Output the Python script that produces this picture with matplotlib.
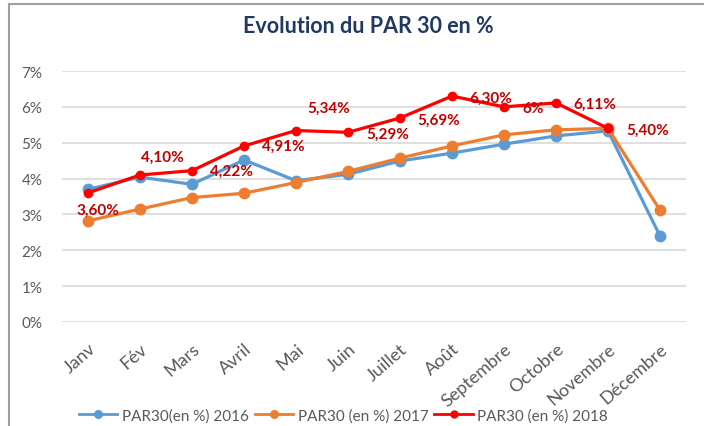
import matplotlib
matplotlib.use("Agg")
import matplotlib.pyplot as plt
from matplotlib.lines import Line2D

plt.rcParams['font.family'] = ['Lato', 'DejaVu Sans']

months = ["Janv", "Fév", "Mars", "Avril", "Mai", "Juin", "Juillet", "Août",
          "Septembre", "Octobre", "Novembre", "Décembre"]
par_2016 = [3.70, 4.04, 3.84, 4.52, 3.94, 4.12, 4.49, 4.71, 4.96, 5.19, 5.33, 2.40]
par_2017 = [2.82, 3.15, 3.47, 3.59, 3.89, 4.20, 4.57, 4.91, 5.22, 5.36, 5.40, 3.12]
par_2018 = [3.60, 4.10, 4.22, 4.91, 5.34, 5.29, 5.69, 6.30, 6.00, 6.11, 5.40]
labels_2018 = ["3,60%", "4,10%", "4,22%", "4,91%", "5,34%", "5,29%", "5,69%",
               "6,30%", "6%", "6,11%", "5,40%"]
# label offsets in pixels (excel had them scattered around)
label_offsets = [(10, -17), (22, 18), (39, 0), (39, 0), (33, 23), (40, -1),
                 (39, -2), (39, -2), (29, -1), (39, -1), (40, -1)]

grey = "#595959"
c16, c17, c18 = "#5B9BD5", "#ED7D31", "#FF0000"

fig = plt.figure(figsize=(7.04, 4.27), dpi=100)
ax = fig.add_axes([62 / 704, 1 - 323 / 427, 624 / 704, 251 / 427])

x = list(range(len(months)))
ax.plot(x, par_2016, color=c16, lw=2.3, marker="o", ms=7.5, zorder=3,
        label="PAR30(en %) 2016")
ax.plot(x, par_2017, color=c17, lw=2.3, marker="o", ms=7.5, zorder=3,
        label="PAR30 (en %) 2017")
ax.plot(x[:len(par_2018)], par_2018, color=c18, lw=2.3, marker="o", ms=6,
        zorder=4, label="PAR30 (en %) 2018")

for i, (v, t) in enumerate(zip(par_2018, labels_2018)):
    ax.annotate(t, (i, v), xytext=label_offsets[i], textcoords="offset pixels",
                ha="center", va="center", color="#C00000", fontsize=11,
                fontweight="bold", zorder=5)

ax.set_xlim(-0.5, 11.5)
ax.set_ylim(0, 7)
ax.set_yticks(range(8))
ax.set_yticklabels(["%d%%" % v for v in range(8)])
ax.set_xticks(x)
ax.set_xticklabels(months, rotation=41, ha="right", rotation_mode="anchor")
ax.tick_params(length=0, colors=grey)
ax.tick_params(axis="y", pad=14, labelsize=11)
ax.tick_params(axis="x", pad=13, labelsize=13)
ax.grid(axis="y", color="#D9D9D9", lw=1.2)
ax.set_axisbelow(True)
for s in ax.spines.values():
    s.set_visible(False)

fig.text(0.523, 0.937, "Evolution du PAR 30 en %", ha="center", va="center",
         fontsize=15.5, fontweight="bold", color="#1F3864")

handles = [Line2D([], [], color=c, lw=2, marker="o", ms=m)
           for c, m in [(c16, 5.5), (c17, 5.5), (c18, 5)]]
fig.legend(handles, [l.get_label() for l in ax.get_lines()],
           loc="lower center", bbox_to_anchor=(0.488, 0.008), ncol=3,
           frameon=False, fontsize=11, labelcolor=grey, handlelength=2.5,
           handletextpad=0.3, columnspacing=0.4, borderpad=0, borderaxespad=0)

# chart border (left and top edges visible in the screenshot)
fig.add_artist(Line2D([9 / 704, 9 / 704], [0, 1 - 5 / 427], color="#A0A0A0",
                      lw=1.5, transform=fig.transFigure))
fig.add_artist(Line2D([9 / 704, 1], [1 - 5 / 427, 1 - 5 / 427], color="#A0A0A0",
                      lw=1.5, transform=fig.transFigure))

fig.savefig("out.png", dpi=100)
